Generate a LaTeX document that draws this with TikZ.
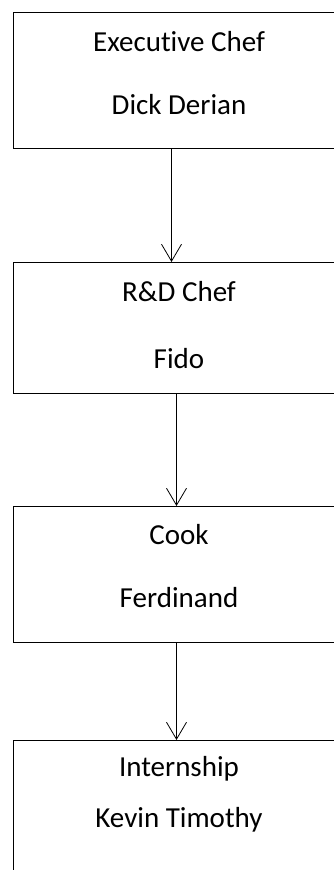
\documentclass[tikz,border=0pt]{standalone}
\usepackage{fontspec}
\setmainfont{Carlito}[Ligatures=NoCommon]
\usetikzlibrary{arrows.meta}

\begin{document}
\begin{tikzpicture}[x=1pt, y=1pt,
  chefbox/.style={draw, line width=1pt, minimum width=332pt, anchor=north west, inner sep=0pt},
  chefname/.style={anchor=base, font=\fontsize{29}{34}\selectfont, inner sep=0pt},
  boss/.style={-{Straight Barb[length=17pt, width=20pt]}, line width=0.8pt}]
\useasboundingbox (0,0) rectangle (334,-870);
\clip (0,0) rectangle (334,-870);

% boxes
\node[chefbox, minimum height=136pt] (exec) at (13,-12) {};
\node[chefbox, minimum height=131pt] (rnd) at (13,-262) {};
\node[chefbox, minimum height=136pt] (cook) at (13,-506) {};
\node[chefbox, minimum height=160pt] (intern) at (13,-740) {};

% names
\node[chefname] (exectitle) at (179,-51) {Executive Chef};
\node[chefname] (execname) at (179,-114) {Dick Derian};
\node[chefname] (rndtitle) at (179,-301) {R\&D Chef};
\node[chefname] (rndname) at (179,-368) {Fido};
\node[chefname] (cooktitle) at (179,-544) {Cook};
\node[chefname] (cookname) at (179,-607) {Ferdinand};
\node[chefname] (interntitle) at (179,-776) {Internship};
\node[chefname] (internname) at (179,-827) {Kevin Timothy};

% who reports to whom
\draw[boss] ([xshift=-8pt]exec.south) -- ([xshift=-8pt]rnd.north);
\draw[boss] ([xshift=-3pt]rnd.south) -- ([xshift=-3pt]cook.north);
\draw[boss] ([xshift=-3pt]cook.south) -- ([xshift=-3pt]intern.north);
\end{tikzpicture}
\end{document}
